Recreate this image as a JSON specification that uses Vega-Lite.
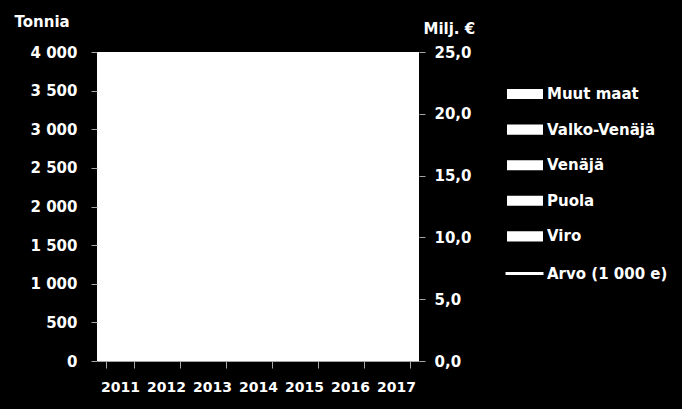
{
  "$schema": "https://vega.github.io/schema/vega-lite/v6.json",
  "width": 322,
  "height": 309,
  "autosize": {"type": "none"},
  "padding": {"left": 97, "top": 52, "right": 263, "bottom": 48},
  "background": "black",
  "view": {"fill": "white", "stroke": null},
  "datasets": {
    "maat": [
      {"vuosi": "2011", "maa": "Viro", "tonnia": 900},
      {"vuosi": "2011", "maa": "Puola", "tonnia": 400},
      {"vuosi": "2011", "maa": "Venäjä", "tonnia": 600},
      {"vuosi": "2011", "maa": "Valko-Venäjä", "tonnia": 300},
      {"vuosi": "2011", "maa": "Muut maat", "tonnia": 500},
      {"vuosi": "2012", "maa": "Viro", "tonnia": 950},
      {"vuosi": "2012", "maa": "Puola", "tonnia": 450},
      {"vuosi": "2012", "maa": "Venäjä", "tonnia": 700},
      {"vuosi": "2012", "maa": "Valko-Venäjä", "tonnia": 350},
      {"vuosi": "2012", "maa": "Muut maat", "tonnia": 550},
      {"vuosi": "2013", "maa": "Viro", "tonnia": 1000},
      {"vuosi": "2013", "maa": "Puola", "tonnia": 500},
      {"vuosi": "2013", "maa": "Venäjä", "tonnia": 650},
      {"vuosi": "2013", "maa": "Valko-Venäjä", "tonnia": 400},
      {"vuosi": "2013", "maa": "Muut maat", "tonnia": 600},
      {"vuosi": "2014", "maa": "Viro", "tonnia": 1050},
      {"vuosi": "2014", "maa": "Puola", "tonnia": 550},
      {"vuosi": "2014", "maa": "Venäjä", "tonnia": 400},
      {"vuosi": "2014", "maa": "Valko-Venäjä", "tonnia": 450},
      {"vuosi": "2014", "maa": "Muut maat", "tonnia": 600},
      {"vuosi": "2015", "maa": "Viro", "tonnia": 1000},
      {"vuosi": "2015", "maa": "Puola", "tonnia": 600},
      {"vuosi": "2015", "maa": "Venäjä", "tonnia": 200},
      {"vuosi": "2015", "maa": "Valko-Venäjä", "tonnia": 500},
      {"vuosi": "2015", "maa": "Muut maat", "tonnia": 650},
      {"vuosi": "2016", "maa": "Viro", "tonnia": 1100},
      {"vuosi": "2016", "maa": "Puola", "tonnia": 650},
      {"vuosi": "2016", "maa": "Venäjä", "tonnia": 150},
      {"vuosi": "2016", "maa": "Valko-Venäjä", "tonnia": 550},
      {"vuosi": "2016", "maa": "Muut maat", "tonnia": 700},
      {"vuosi": "2017", "maa": "Viro", "tonnia": 1150},
      {"vuosi": "2017", "maa": "Puola", "tonnia": 700},
      {"vuosi": "2017", "maa": "Venäjä", "tonnia": 150},
      {"vuosi": "2017", "maa": "Valko-Venäjä", "tonnia": 600},
      {"vuosi": "2017", "maa": "Muut maat", "tonnia": 750}
    ],
    "arvo": [
      {"vuosi": "2011", "milj": 13.5},
      {"vuosi": "2012", "milj": 15.0},
      {"vuosi": "2013", "milj": 15.5},
      {"vuosi": "2014", "milj": 14.0},
      {"vuosi": "2015", "milj": 12.5},
      {"vuosi": "2016", "milj": 13.0},
      {"vuosi": "2017", "milj": 14.5}
    ]
  },
  "encoding": {
    "x": {
      "field": "vuosi",
      "type": "ordinal",
      "title": null,
      "scale": {"paddingInner": 0.4, "paddingOuter": 0.2},
      "axis": {
        "tickBand": "extent",
        "tickSize": 7,
        "labelPadding": 12,
        "labelAngle": 0,
        "labelFontSize": 14,
        "domainColor": "#a6a6a6",
        "tickColor": "#a6a6a6"
      }
    }
  },
  "layer": [
    {
      "data": {"name": "maat"},
      "mark": {"type": "bar", "strokeWidth": 0},
      "encoding": {
        "y": {
          "field": "tonnia",
          "type": "quantitative",
          "aggregate": "sum",
          "scale": {"domain": [0, 4000], "nice": false},
          "axis": {
            "title": "Tonnia",
            "titleAngle": 0,
            "titleAlign": "left",
            "titleBaseline": "middle",
            "titleX": -83,
            "titleY": -31,
            "values": [0, 500, 1000, 1500, 2000, 2500, 3000, 3500, 4000],
            "labelExpr": "replace(format(datum.value, ','), ',', ' ')",
            "tickSize": 6,
            "labelPadding": 14,
            "grid": false,
            "domain": false,
            "tickColor": "#a6a6a6"
          }
        },
        "color": {
          "field": "maa",
          "type": "nominal",
          "scale": {
            "domain": ["Muut maat", "Valko-Venäjä", "Venäjä", "Puola", "Viro"],
            "range": ["white", "white", "white", "white", "white"]
          },
          "legend": {
            "title": null,
            "orient": "none",
            "legendX": 410,
            "legendY": 24,
            "symbolType": "M-1,-0.28H1V0.28H-1Z",
            "symbolSize": 1296,
            "symbolStrokeWidth": 0,
            "rowPadding": 9.6,
            "labelOffset": 4
          }
        },
        "order": {"field": "maa", "sort": "descending"}
      }
    },
    {
      "data": {"name": "arvo"},
      "mark": {"type": "line", "strokeWidth": 3},
      "encoding": {
        "y": {
          "field": "milj",
          "type": "quantitative",
          "scale": {"domain": [0, 25], "nice": false},
          "axis": {
            "orient": "right",
            "title": "Milj. €",
            "titleAngle": 0,
            "titleAlign": "left",
            "titleBaseline": "middle",
            "titleX": 4,
            "titleY": -24,
            "values": [0, 5, 10, 15, 20, 25],
            "labelExpr": "replace(format(datum.value, '.1f'), '.', ',')",
            "tickSize": 6,
            "labelPadding": 9,
            "grid": false,
            "domain": false,
            "tickColor": "#a6a6a6"
          }
        },
        "stroke": {
          "datum": "Arvo (1 000 e)",
          "scale": {"range": ["white"]},
          "legend": {
            "title": null,
            "orient": "none",
            "legendX": 407,
            "legendY": 201,
            "symbolType": "stroke",
            "symbolSize": 1444,
            "symbolStrokeWidth": 3,
            "labelOffset": 2
          }
        }
      }
    }
  ],
  "resolve": {"scale": {"y": "independent"}},
  "config": {
    "font": "DejaVu Sans",
    "axis": {
      "labelColor": "white",
      "labelFont": "DejaVu Sans",
      "labelFontWeight": "bold",
      "labelFontSize": 15,
      "titleColor": "white",
      "titleFont": "DejaVu Sans",
      "titleFontWeight": "bold",
      "titleFontSize": 15
    },
    "legend": {
      "labelColor": "white",
      "labelFont": "DejaVu Sans",
      "labelFontWeight": "bold",
      "labelFontSize": 15,
      "labelLimit": 200
    }
  }
}
